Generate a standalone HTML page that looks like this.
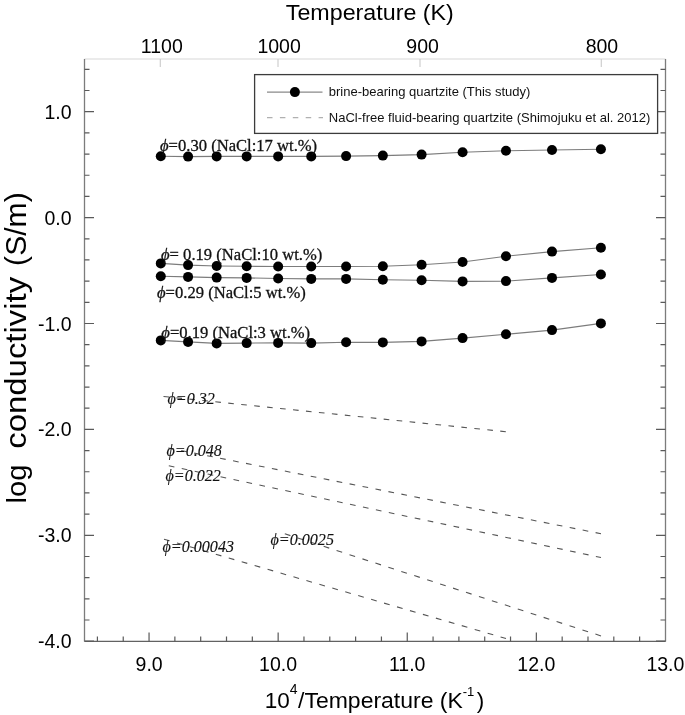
<!DOCTYPE html><html><head><meta charset="utf-8"><style>html,body{margin:0;padding:0;background:#fff}svg{display:block}</style></head><body>
<svg width="685" height="715" viewBox="0 0 685 715">
<rect width="685" height="715" fill="#fff"/>
<line x1="84.5" y1="59.0" x2="665.5" y2="59.0" stroke="#d8d8d8" stroke-width="1.2"/>
<line x1="84.5" y1="59.0" x2="84.5" y2="641.4" stroke="#7c7c7c" stroke-width="1.3"/>
<line x1="665.5" y1="59.0" x2="665.5" y2="641.4" stroke="#7c7c7c" stroke-width="1.3"/>
<line x1="84.5" y1="641.4" x2="665.5" y2="641.4" stroke="#626262" stroke-width="1.2"/>
<path d="M84.5 641.20h9.5 M665.5 641.20h-9.5 M84.5 620.02h5 M665.5 620.02h-5 M84.5 598.84h5 M665.5 598.84h-5 M84.5 577.66h5 M665.5 577.66h-5 M84.5 556.48h5 M665.5 556.48h-5 M84.5 535.30h9.5 M665.5 535.30h-9.5 M84.5 514.12h5 M665.5 514.12h-5 M84.5 492.94h5 M665.5 492.94h-5 M84.5 471.76h5 M665.5 471.76h-5 M84.5 450.58h5 M665.5 450.58h-5 M84.5 429.40h9.5 M665.5 429.40h-9.5 M84.5 408.22h5 M665.5 408.22h-5 M84.5 387.04h5 M665.5 387.04h-5 M84.5 365.86h5 M665.5 365.86h-5 M84.5 344.68h5 M665.5 344.68h-5 M84.5 323.50h9.5 M665.5 323.50h-9.5 M84.5 302.32h5 M665.5 302.32h-5 M84.5 281.14h5 M665.5 281.14h-5 M84.5 259.96h5 M665.5 259.96h-5 M84.5 238.78h5 M665.5 238.78h-5 M84.5 217.60h9.5 M665.5 217.60h-9.5 M84.5 196.42h5 M665.5 196.42h-5 M84.5 175.24h5 M665.5 175.24h-5 M84.5 154.06h5 M665.5 154.06h-5 M84.5 132.88h5 M665.5 132.88h-5 M84.5 111.70h9.5 M665.5 111.70h-9.5 M84.5 90.52h5 M665.5 90.52h-5 M84.5 69.34h5 M665.5 69.34h-5 M97.41 641.4v-5 M123.23 641.4v-5 M149.05 641.4v-9 M174.87 641.4v-5 M200.69 641.4v-5 M226.51 641.4v-5 M252.33 641.4v-5 M278.15 641.4v-9 M303.97 641.4v-5 M329.79 641.4v-5 M355.61 641.4v-5 M381.43 641.4v-5 M407.25 641.4v-9 M433.07 641.4v-5 M458.89 641.4v-5 M484.71 641.4v-5 M510.53 641.4v-5 M536.35 641.4v-9 M562.17 641.4v-5 M587.99 641.4v-5 M613.81 641.4v-5 M639.63 641.4v-5" stroke="#5a5a5a" stroke-width="1.2" fill="none"/>
<path d="M160.30 59.0v8 M278.00 59.0v8 M420.00 59.0v8 M601.30 59.0v8" stroke="#cfcfcf" stroke-width="1.2" fill="none"/>
<g font-family="Liberation Sans, Arial, sans-serif" font-size="19.5" fill="#000">
<text x="71.5" y="118.7" text-anchor="end">1.0</text>
<text x="71.5" y="224.6" text-anchor="end">0.0</text>
<text x="71.5" y="330.5" text-anchor="end">-1.0</text>
<text x="71.5" y="436.4" text-anchor="end">-2.0</text>
<text x="71.5" y="542.3" text-anchor="end">-3.0</text>
<text x="71.5" y="648.2" text-anchor="end">-4.0</text>
<text x="149.1" y="671" text-anchor="middle">9.0</text>
<text x="278.1" y="671" text-anchor="middle">10.0</text>
<text x="407.2" y="671" text-anchor="middle">11.0</text>
<text x="536.3" y="671" text-anchor="middle">12.0</text>
<text x="665.4" y="671" text-anchor="middle">13.0</text>
<text x="161.8" y="52.6" text-anchor="middle">1100</text>
<text x="279.1" y="52.6" text-anchor="middle">1000</text>
<text x="422.6" y="52.6" text-anchor="middle">900</text>
<text x="601.9" y="52.6" text-anchor="middle">800</text>
</g>
<g font-family="Liberation Sans, Arial, sans-serif" fill="#000">
<text x="285.8" y="19.7" font-size="22.5" textLength="168" lengthAdjust="spacingAndGlyphs">Temperature (K)</text>
<text x="264.75" y="707.8" font-size="22.5">10</text>
<text x="289.8" y="694" font-size="14">4</text>
<text x="298.1" y="707.8" font-size="22.5" textLength="164.7" lengthAdjust="spacingAndGlyphs">/Temperature (K</text>
<text x="462.7" y="696.2" font-size="13">-1</text>
<text x="476.7" y="707.8" font-size="22.5">)</text>
</g>
<g font-family="Liberation Sans, Arial, sans-serif" font-size="29">
<text transform="translate(26.2,503.4) rotate(-90)" font-size="28.2" textLength="39" lengthAdjust="spacingAndGlyphs">log</text>
<text transform="translate(26,448.8) rotate(-90)" textLength="172" lengthAdjust="spacingAndGlyphs" font-size="30">conductivity</text>
<text transform="translate(26,265.9) rotate(-90)" textLength="73.6" lengthAdjust="spacingAndGlyphs" font-size="30">(S/m)</text>
</g>
<polyline points="160.79,156.20 188.08,156.60 216.67,156.40 246.66,156.40 278.15,156.40 311.25,156.40 346.10,156.10 382.83,155.60 421.59,154.60 462.58,152.20 505.97,150.80 552.00,150.00 600.90,149.30" fill="none" stroke="#7c7c7c" stroke-width="1.1"/>
<polyline points="160.79,263.40 188.08,265.10 216.67,266.00 246.66,266.30 278.15,266.50 311.25,266.50 346.10,266.50 382.83,266.20 421.59,264.70 462.58,262.00 505.97,256.20 552.00,251.60 600.90,247.80" fill="none" stroke="#7c7c7c" stroke-width="1.1"/>
<polyline points="160.79,276.20 188.08,276.90 216.67,277.60 246.66,277.90 278.15,278.50 311.25,278.90 346.10,278.90 382.83,279.70 421.59,280.30 462.58,281.40 505.97,281.10 552.00,277.90 600.90,274.50" fill="none" stroke="#7c7c7c" stroke-width="1.1"/>
<polyline points="160.79,340.40 188.08,341.90 216.67,343.40 246.66,343.10 278.15,342.90 311.25,343.10 346.10,342.20 382.83,342.40 421.59,341.40 462.58,338.10 505.97,334.30 552.00,330.10 600.90,323.40" fill="none" stroke="#7c7c7c" stroke-width="1.1"/>
<line x1="163.5" y1="396.5" x2="506" y2="431.7" stroke="#555" stroke-width="1.1" stroke-dasharray="5.63 7.39"/>
<line x1="168.3" y1="448.0" x2="601" y2="533.7" stroke="#555" stroke-width="1.1" stroke-dasharray="5.71 7.49"/>
<line x1="168.8" y1="465.8" x2="601" y2="557.5" stroke="#555" stroke-width="1.1" stroke-dasharray="5.72 7.51"/>
<line x1="164.0" y1="539.2" x2="506" y2="638.5" stroke="#555" stroke-width="1.1" stroke-dasharray="5.83 7.65"/>
<line x1="284.8" y1="533.8" x2="601" y2="635.9" stroke="#555" stroke-width="1.1" stroke-dasharray="5.88 7.72"/>
<g fill="#000"><circle cx="160.79" cy="156.20" r="5"/><circle cx="188.08" cy="156.60" r="5"/><circle cx="216.67" cy="156.40" r="5"/><circle cx="246.66" cy="156.40" r="5"/><circle cx="278.15" cy="156.40" r="5"/><circle cx="311.25" cy="156.40" r="5"/><circle cx="346.10" cy="156.10" r="5"/><circle cx="382.83" cy="155.60" r="5"/><circle cx="421.59" cy="154.60" r="5"/><circle cx="462.58" cy="152.20" r="5"/><circle cx="505.97" cy="150.80" r="5"/><circle cx="552.00" cy="150.00" r="5"/><circle cx="600.90" cy="149.30" r="5"/><circle cx="160.79" cy="263.40" r="5"/><circle cx="188.08" cy="265.10" r="5"/><circle cx="216.67" cy="266.00" r="5"/><circle cx="246.66" cy="266.30" r="5"/><circle cx="278.15" cy="266.50" r="5"/><circle cx="311.25" cy="266.50" r="5"/><circle cx="346.10" cy="266.50" r="5"/><circle cx="382.83" cy="266.20" r="5"/><circle cx="421.59" cy="264.70" r="5"/><circle cx="462.58" cy="262.00" r="5"/><circle cx="505.97" cy="256.20" r="5"/><circle cx="552.00" cy="251.60" r="5"/><circle cx="600.90" cy="247.80" r="5"/><circle cx="160.79" cy="276.20" r="5"/><circle cx="188.08" cy="276.90" r="5"/><circle cx="216.67" cy="277.60" r="5"/><circle cx="246.66" cy="277.90" r="5"/><circle cx="278.15" cy="278.50" r="5"/><circle cx="311.25" cy="278.90" r="5"/><circle cx="346.10" cy="278.90" r="5"/><circle cx="382.83" cy="279.70" r="5"/><circle cx="421.59" cy="280.30" r="5"/><circle cx="462.58" cy="281.40" r="5"/><circle cx="505.97" cy="281.10" r="5"/><circle cx="552.00" cy="277.90" r="5"/><circle cx="600.90" cy="274.50" r="5"/><circle cx="160.79" cy="340.40" r="5"/><circle cx="188.08" cy="341.90" r="5"/><circle cx="216.67" cy="343.40" r="5"/><circle cx="246.66" cy="343.10" r="5"/><circle cx="278.15" cy="342.90" r="5"/><circle cx="311.25" cy="343.10" r="5"/><circle cx="346.10" cy="342.20" r="5"/><circle cx="382.83" cy="342.40" r="5"/><circle cx="421.59" cy="341.40" r="5"/><circle cx="462.58" cy="338.10" r="5"/><circle cx="505.97" cy="334.30" r="5"/><circle cx="552.00" cy="330.10" r="5"/><circle cx="600.90" cy="323.40" r="5"/></g>
<g font-family="Liberation Serif, Times New Roman, serif" font-size="16.6" fill="#111" stroke="#111" stroke-width="0.3">
<text x="160" y="150.6"><tspan font-style="italic">&#981;</tspan>=0.30 (NaCl:17 wt.%)</text>
<text x="161" y="259.8"><tspan font-style="italic">&#981;</tspan>= 0.19 (NaCl:10 wt.%)</text>
<text x="157" y="298"><tspan font-style="italic">&#981;</tspan>=0.29 (NaCl:5 wt.%)</text>
<text x="161.3" y="337.6"><tspan font-style="italic">&#981;</tspan>=0.19 (NaCl:3 wt.%)</text>
</g>
<g font-family="Liberation Serif, Times New Roman, serif" font-size="16.1" font-style="italic" fill="#111" stroke="#111" stroke-width="0.12">
<text x="167.5" y="403.6"><tspan font-style="italic">&#981;</tspan>=0.32</text>
<text x="166.5" y="456.4"><tspan font-style="italic">&#981;</tspan>=0.048</text>
<text x="165.5" y="481.1"><tspan font-style="italic">&#981;</tspan>=0.022</text>
<text x="162.5" y="552.3"><tspan font-style="italic">&#981;</tspan>=0.00043</text>
<text x="270.5" y="545.4"><tspan font-style="italic">&#981;</tspan>=0.0025</text>
</g>
<rect x="254.6" y="74.6" width="403" height="58.8" fill="#fff" stroke="#3c3c3c" stroke-width="1.3"/>
<line x1="267" y1="92.1" x2="322.5" y2="92.1" stroke="#8a8a8a" stroke-width="1.1"/>
<circle cx="294.9" cy="92.1" r="5"/>
<line x1="267" y1="117.6" x2="323" y2="117.6" stroke="#b0b0b0" stroke-width="1.1" stroke-dasharray="5.5 7.4"/>
<g font-family="Liberation Sans, Arial, sans-serif" font-size="13" fill="#111">
<text x="328.8" y="95.6">brine-bearing quartzite (This study)</text>
<text x="328.8" y="121.6">NaCl-free fluid-bearing quartzite (Shimojuku et al. 2012)</text>
</g>
</svg></body></html>
